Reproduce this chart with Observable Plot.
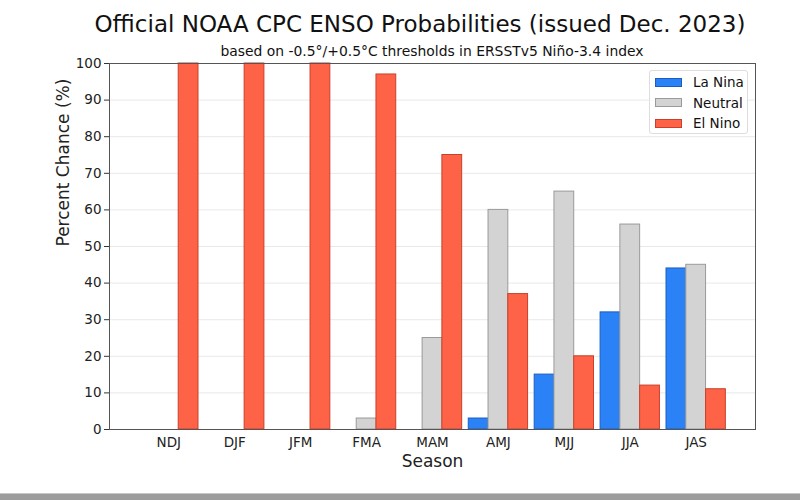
<!DOCTYPE html>
<html>
<head>
<meta charset="utf-8">
<script src="https://cdn.jsdelivr.net/npm/d3@7"></script>
<script src="https://cdn.jsdelivr.net/npm/@observablehq/plot@0.6"></script>
<style>
  html, body { margin: 0; padding: 0; background: #fff; }
  #wrap { position: relative; width: 800px; height: 500px; overflow: hidden; font-family: "DejaVu Sans", sans-serif; color: #111; }
  #title { position: absolute; left: 0; width: 840px; top: 13px; text-align: center; font-size: 23px; line-height: 23px; white-space: nowrap; }
  #subtitle { position: absolute; left: 109px; width: 646px; top: 45px; text-align: center; font-size: 13.9px; line-height: 13.9px; white-space: nowrap; }
  #chart { position: absolute; left: 0; top: 0; }
  #legend { position: absolute; left: 649px; top: 70px; width: 97px; height: 62px; border: 1px solid #ddd; border-radius: 3px; background: rgba(255,255,255,0.85); font-size: 13.5px; }
  .item { position: absolute; left: 5px; height: 14px; display: flex; align-items: center; }
  .sw { width: 27px; height: 9px; margin-right: 11px; box-sizing: border-box; }
  #bottombar { position: absolute; left: 0; top: 493px; width: 800px; height: 7px; background: #9c9c9c; border-top: 1px solid #c8c8c8; }
</style>
</head>
<body>
<div id="wrap">
  <div id="chart"></div>
  <div id="title">Official NOAA CPC ENSO Probabilities (issued Dec. 2023)</div>
  <div id="subtitle">based on -0.5°/+0.5°C thresholds in ERSSTv5 Niño-3.4 index</div>
  <div id="legend"></div>
  <div id="bottombar"></div>
</div>
<script>
const seasons = ["NDJ", "DJF", "JFM", "FMA", "MAM", "AMJ", "MJJ", "JJA", "JAS"];
const laNina  = [0, 0, 0, 0, 0, 3, 15, 32, 44];
const neutral = [0, 0, 0, 3, 25, 60, 65, 56, 45];
const elNino  = [100, 100, 100, 97, 75, 37, 20, 12, 11];

const seriesNames = ["La Nina", "Neutral", "El Nino"];
const seriesFill = ["#2b82f6", "#d3d3d3", "#ff6347"];
const seriesStroke = ["#1a5fc0", "#9a9a9a", "#c8402a"];
const seriesValues = [laNina, neutral, elNino];
const offsets = [-0.3, 0, 0.3];
const barW = 0.3;

const rows = [];
seriesValues.forEach((vals, s) => {
  vals.forEach((v, i) => {
    rows.push({season: seasons[i], i, s, series: seriesNames[s], value: v,
      x1: i + offsets[s] - barW / 2, x2: i + offsets[s] + barW / 2});
  });
});
const shown = rows.filter(d => d.value > 0);

const plot = Plot.plot({
  width: 800,
  height: 500,
  marginLeft: 109,
  marginRight: 45,
  marginTop: 63,
  marginBottom: 71,
  style: {fontFamily: "DejaVu Sans, sans-serif", fontSize: "13.5px", color: "#222", background: "transparent"},
  x: {type: "linear", domain: [-0.9, 8.9]},
  y: {domain: [0, 100]},
  color: {domain: seriesNames, range: seriesFill},
  marks: [
    Plot.gridY(d3.range(10, 101, 10), {stroke: "#000", strokeOpacity: 0.09}),
    Plot.rectY(shown, {x1: "x1", x2: "x2", y1: 0, y2: "value", fill: "series",
      stroke: d => seriesStroke[d.s], strokeWidth: 1}),
    Plot.axisY({ticks: d3.range(0, 101, 10), tickSize: 5, tickPadding: 3, label: null, stroke: "#333"}),
    Plot.axisX({ticks: d3.range(0, 9), tickFormat: i => seasons[i], tickSize: 0, tickPadding: 8, label: null}),
    Plot.frame({stroke: "#555", strokeWidth: 1}),
    Plot.text(["Percent Chance (%)"], {frameAnchor: "left", rotate: -90, dx: -46, fontSize: 17, fill: "#222"}),
    Plot.text(["Season"], {frameAnchor: "bottom", dy: 37, fontSize: 17, fill: "#222"})
  ]
});
document.getElementById("chart").appendChild(plot);

const legend = document.getElementById("legend");
seriesNames.forEach((n, s) => {
  const it = document.createElement("div");
  it.className = "item";
  it.style.top = (4 + s * 20.5) + "px";
  const sw = document.createElement("div");
  sw.className = "sw";
  sw.style.background = seriesFill[s];
  sw.style.border = "1px solid " + seriesStroke[s];
  const tx = document.createElement("span");
  tx.textContent = n;
  it.appendChild(sw);
  it.appendChild(tx);
  legend.appendChild(it);
});
</script>
</body>
</html>
